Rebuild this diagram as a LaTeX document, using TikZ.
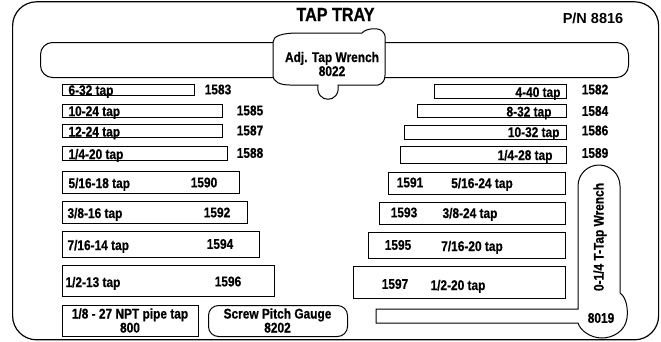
\documentclass[tikz,border=0pt]{standalone}
\usepackage{fontspec}
\setmainfont{Liberation Sans}[FakeStretch=0.85,BoldFeatures={FakeBold=0.6}]
\newfontfamily\pnfont{Liberation Sans}
\usepackage{tikz}

\begin{document}
\begin{tikzpicture}[x=1pt,y=-1pt,line width=1pt,
  tap_box/.style={draw,inner sep=0pt,anchor=north west},
  tap_lbl/.style={inner sep=0pt,font=\bfseries\fontsize{14}{14}\selectfont}]
\useasboundingbox (0,0) rectangle (661,341);
\node[tap_box,line width=1.2pt,rounded corners=24pt,minimum width=646pt,minimum height=338pt] (tray) at (12,1.2) {};
\node[inner sep=0pt,font=\bfseries\fontsize{19}{19}\selectfont] (title) at (335.5,14.5) {TAP TRAY};
\node[inner sep=0pt,font=\pnfont\bfseries\fontsize{14.5}{14.5}\selectfont] (pn) at (593,18) {P/N 8816};
\node[tap_box,rounded corners=12pt,minimum width=588pt,minimum height=35pt] (adjbar) at (40,42) {};
\draw[fill=white] (273,42) .. controls (273,36) and (282,33) .. (298,33) -- (362,33) .. controls (366,28) and (380,27) .. (383,32) .. controls (386,35) and (385,38) .. (385,42) -- (385,75) .. controls (385,80) and (383,84) .. (378,85) -- (338,85) .. controls (341,104) and (315,104) .. (318,85) -- (290,85) .. controls (280,85) and (273,82) .. (273,75) -- cycle;
\node[tap_lbl,align=center] (adjlbl) at (332,64) {Adj. Tap Wrench\\8022};

\node[tap_box,minimum width=132pt,minimum height=11pt] (b1) at (62,84) {};
\node[tap_lbl,anchor=base west] (t1) at (68,95) {6-32 tap};
\node[tap_lbl] (n1) at (218,89.5) {1583};
\node[tap_box,minimum width=160pt,minimum height=13pt] (b2) at (62,104) {};
\node[tap_lbl,anchor=base west] (t2) at (68,116) {10-24 tap};
\node[tap_lbl] (n2) at (250,110.5) {1585};
\node[tap_box,minimum width=160pt,minimum height=13pt] (b3) at (62,124) {};
\node[tap_lbl,anchor=base west] (t3) at (68,136.5) {12-24 tap};
\node[tap_lbl] (n3) at (250,130.5) {1587};
\node[tap_box,minimum width=165pt,minimum height=14pt] (b4) at (62,146) {};
\node[tap_lbl,anchor=base west] (t4) at (68,159) {1/4-20 tap};
\node[tap_lbl] (n4) at (250,153) {1588};
\node[tap_box,minimum width=177pt,minimum height=22pt] (b5) at (62,171) {};
\node[tap_lbl,anchor=base west] (t5) at (68,188) {5/16-18 tap};
\node[tap_lbl] (n5) at (204,182.5) {1590};
\node[tap_box,minimum width=185pt,minimum height=22pt] (b6) at (62,201) {};
\node[tap_lbl,anchor=base west] (t6) at (67,218) {3/8-16 tap};
\node[tap_lbl] (n6) at (217,212.5) {1592};
\node[tap_box,minimum width=197pt,minimum height=26pt] (b7) at (62,231) {};
\node[tap_lbl,anchor=base west] (t7) at (67,250) {7/16-14 tap};
\node[tap_lbl] (n7) at (220,244) {1594};
\node[tap_box,minimum width=212pt,minimum height=31pt] (b8) at (62,265) {};
\node[tap_lbl,anchor=base west] (t8) at (65,287) {1/2-13 tap};
\node[tap_lbl] (n8) at (228,281.5) {1596};
\node[tap_box,minimum width=136pt,minimum height=31pt] (b9) at (62,305) {};
\node[tap_lbl,align=center] (t9) at (130,320.5) {1/8 - 27 NPT pipe tap\\800};
\node[tap_box,rounded corners=10pt,minimum width=139pt,minimum height=31pt] (gauge) at (208,305) {};
\node[tap_lbl,align=center] (glbl) at (277.5,320.5) {Screw Pitch Gauge\\8202};

\node[tap_box,minimum width=132pt,minimum height=14pt] (c1) at (434,84) {};
\node[tap_lbl,anchor=base east] (u1) at (561,97) {4-40 tap};
\node[tap_lbl] (m1) at (595,89.5) {1582};
\node[tap_box,minimum width=149pt,minimum height=13pt] (c2) at (417,104) {};
\node[tap_lbl,anchor=base east] (u2) at (552,116.5) {8-32 tap};
\node[tap_lbl] (m2) at (595,111) {1584};
\node[tap_box,minimum width=162pt,minimum height=14pt] (c3) at (404,125) {};
\node[tap_lbl,anchor=base east] (u3) at (560,137) {10-32 tap};
\node[tap_lbl] (m3) at (595,130.5) {1586};
\node[tap_box,minimum width=166pt,minimum height=17pt] (c4) at (400,146) {};
\node[tap_lbl,anchor=base east] (u4) at (553,160) {1/4-28 tap};
\node[tap_lbl] (m4) at (595,153) {1589};
\node[tap_box,minimum width=177pt,minimum height=22pt] (c5) at (388,172) {};
\node[tap_lbl] (m5) at (410,182.5) {1591};
\node[tap_lbl,anchor=base] (u5) at (482,188) {5/16-24 tap};
\node[tap_box,minimum width=186pt,minimum height=22pt] (c6) at (379,202) {};
\node[tap_lbl] (m6) at (404,212.5) {1593};
\node[tap_lbl,anchor=base] (u6) at (470,218) {3/8-24 tap};
\node[tap_box,minimum width=197pt,minimum height=26pt] (c7) at (368,232) {};
\node[tap_lbl] (m7) at (398,245) {1595};
\node[tap_lbl,anchor=base] (u7) at (472,251) {7/16-20 tap};
\node[tap_box,minimum width=212pt,minimum height=32pt] (c8) at (353,266) {};
\node[tap_lbl] (m8) at (395,284) {1597};
\node[tap_lbl,anchor=base] (u8) at (458,290) {1/2-20 tap};

\draw[fill=white] (376,309) -- (578,309) -- (578,186) .. controls (578,174.4) and (587.4,165) .. (599,165) .. controls (610.6,165) and (620,174.4) .. (620,186) -- (620,293) .. controls (627,298) and (628,310) .. (627,318) .. controls (625,332) and (612,338) .. (602,338) .. controls (590,338) and (580,330) .. (578,323) -- (376,323) -- cycle;
\node[tap_lbl,rotate=90] (tlbl) at (600,237) {0-1/4 T-Tap Wrench};
\node[tap_lbl] (tnum) at (601,318) {8019};
\end{tikzpicture}
\end{document}
